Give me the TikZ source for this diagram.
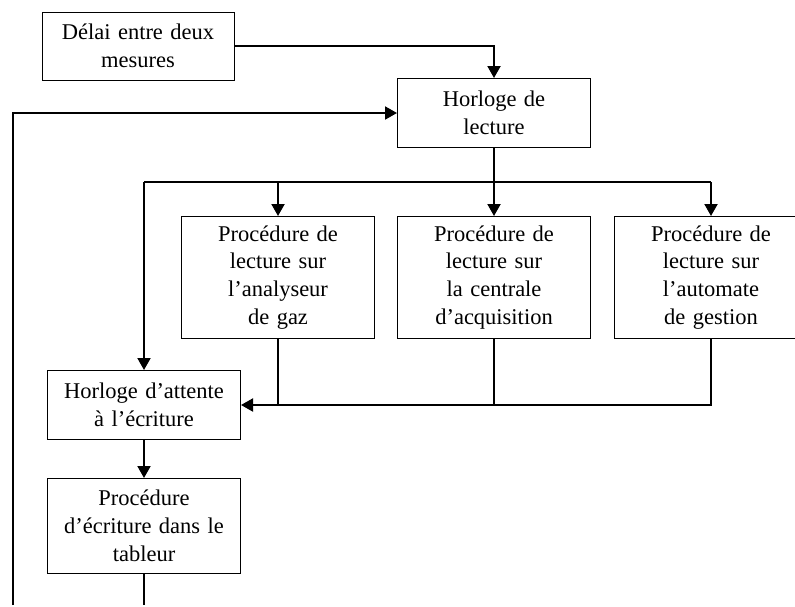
\documentclass[tikz,border=0pt]{standalone}
\usepackage{fontspec}
\setmainfont{Liberation Serif}
\usetikzlibrary{arrows.meta, positioning, calc}
\tikzset{
  procbox/.style={
    draw=black,
    line width=0.85pt,
    align=center,
    font=\fontsize{19.2}{23.8}\selectfont,
    inner sep=0pt,
    text width=5.6cm,
    minimum width=5.79cm,
    minimum height=2.07cm
  },
  arrowl/.style={
    line width=1.7pt,
    color=black
  },
  arrowa/.style={
    -{Triangle[length=0.36cm, width=0.39cm]},
    line width=1.7pt,
    color=black
  }
}
\begin{document}
\begin{tikzpicture}

  \useasboundingbox (0,0) rectangle (23.85,-18.18);

  % ==================== READING ====================
  \node (delai) [procbox, minimum width=5.76cm, minimum height=2.04cm] at (4.14,-1.38) {D\'elai entre deux\\mesures};

  \node (hl) [procbox] at (14.82,-3.39) {Horloge de\\lecture};

  \node (p2) [procbox, minimum height=3.66cm, below=2.04cm of hl] {Proc\'edure de\\lecture sur\\la centrale\\d’acquisition};

  \node (p1) [procbox, minimum height=3.66cm, left=0.66cm of p2] {Proc\'edure de\\lecture sur\\l’analyseur\\de gaz};

  \node (p3) [procbox, minimum height=3.66cm, right=0.69cm of p2] {Proc\'edure de\\lecture sur\\l’automate\\de gestion};

  % ==================== WRITING ====================
  \node (wa) [procbox] at (4.32,-12.15) {Horloge d’attente\\\`a l’\'ecriture};

  \node (wt) [procbox, minimum height=2.85cm, below=1.14cm of wa] {Proc\'edure\\d’\'ecriture dans le\\tableur};

  \coordinate (bl) at (0.39,-18.15);

  % Connectors reading
  \draw [arrowa] (delai.east) -| (hl.north);
  \draw [arrowl] (hl.south) -- ++(0,-1.02) coordinate (tb);
  \draw [arrowl] (tb -| wa.north) -- (tb -| p3.north);
  \draw [arrowa] (tb) -- (p2.north);
  \draw [arrowa] (tb -| p1.north) -- (p1.north);
  \draw [arrowa] (tb -| p3.north) -- (p3.north);
  \draw [arrowa] (tb -| wa.north) -- (wa.north);

  % Connectors writing
  \draw [arrowa] (p3.south) |- (wa.east);
  \draw [arrowl] (p1.south) -- (p1.south |- wa.east);
  \draw [arrowl] (p2.south) -- (p2.south |- wa.east);
  \draw [arrowa] (wa) -- (wt);
  \draw [arrowl] (wt.south) -- (wt.south |- bl);
  \draw [arrowa] (bl) |- (hl.west);

\end{tikzpicture}
\end{document}
